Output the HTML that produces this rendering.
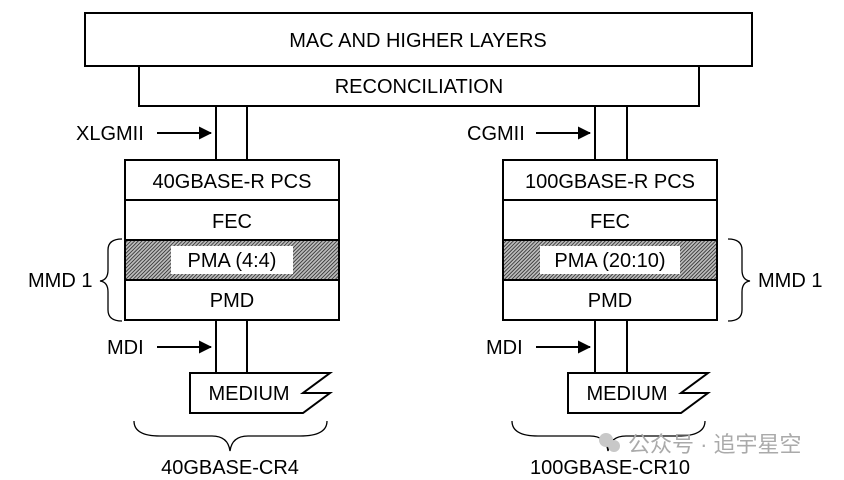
<!DOCTYPE html>
<html><head><meta charset="utf-8"><style>
html,body{margin:0;padding:0;background:#fff;width:844px;height:480px;overflow:hidden}
svg{display:block}
text{font-family:"Liberation Sans",Arial,sans-serif;font-size:20px;fill:#000}
</style></head><body>
<svg width="844" height="480" viewBox="0 0 844 480" xmlns="http://www.w3.org/2000/svg">
<defs>
<pattern id="h" width="2.6" height="2.6" patternUnits="userSpaceOnUse" patternTransform="rotate(45)">
<rect width="2.6" height="2.6" fill="#bbb"/><line x1="0" y1="0" x2="0" y2="2.6" stroke="#222" stroke-width="1.5"/>
</pattern>
<marker id="a" markerWidth="13" markerHeight="13" refX="12" refY="6.5" orient="auto" markerUnits="userSpaceOnUse">
<path d="M0,0 L13,6.5 L0,13 Z" fill="#000"/></marker>
</defs>
<g fill="none" stroke="#000" stroke-width="2">
<rect x="85" y="13" width="667" height="53" fill="#fff"/>
<path d="M139,66 V106 H699 V66"/>
<line x1="216" y1="106" x2="216" y2="160"/><line x1="247" y1="106" x2="247" y2="160"/>
<rect x="125" y="240" width="214" height="40" fill="url(#h)"/>
<rect x="125" y="160" width="214" height="160"/>
<line x1="125" y1="200" x2="339" y2="200"/><line x1="125" y1="240" x2="339" y2="240"/><line x1="125" y1="280" x2="339" y2="280"/>
<line x1="216" y1="320" x2="216" y2="374"/><line x1="247" y1="320" x2="247" y2="374"/>
<path d="M190,373 H330 L303,393 H330 L303,413 H190 Z"/>
<line x1="595" y1="106" x2="595" y2="160"/><line x1="627" y1="106" x2="627" y2="160"/>
<rect x="503" y="240" width="214" height="40" fill="url(#h)"/>
<rect x="503" y="160" width="214" height="160"/>
<line x1="503" y1="200" x2="717" y2="200"/><line x1="503" y1="240" x2="717" y2="240"/><line x1="503" y1="280" x2="717" y2="280"/>
<line x1="595" y1="320" x2="595" y2="374"/><line x1="627" y1="320" x2="627" y2="374"/>
<path d="M568,373 H708 L681,393 H708 L681,413 H568 Z"/>
</g>
<rect x="171" y="246" width="122" height="28" fill="#fff"/>
<rect x="540" y="246" width="140" height="28" fill="#fff"/>
<g fill="none" stroke="#000" stroke-width="2">
<line x1="157" y1="133" x2="211" y2="133" marker-end="url(#a)"/>
<line x1="157" y1="347" x2="211" y2="347" marker-end="url(#a)"/>
<line x1="536" y1="133" x2="590" y2="133" marker-end="url(#a)"/>
<line x1="536" y1="347" x2="590" y2="347" marker-end="url(#a)"/>
</g>
<g fill="none" stroke="#000" stroke-width="1.3">
<path d="M122,239 Q108,239 108,250 V270 Q108,280 100,281 Q108,282 108,292 V310 Q108,321 122,321"/>
<path d="M728,239 Q742,239 742,250 V270 Q742,280 750,281 Q742,282 742,292 V310 Q742,321 728,321"/>
<path d="M134,421 Q134,436 160,436 H212 Q228,436 230,451 Q232,436 248,436 H300 Q327,436 327,421"/>
<path d="M512,421 Q512,436 538,436 H590 Q606,436 608,451 Q610,436 626,436 H678 Q705,436 705,421"/>
</g>
<g text-anchor="middle">
<text x="418" y="47">MAC AND HIGHER LAYERS</text>
<text x="419" y="93">RECONCILIATION</text>
<text x="232" y="188">40GBASE-R PCS</text>
<text x="232" y="228">FEC</text>
<text x="232" y="267">PMA (4:4)</text>
<text x="232" y="307">PMD</text>
<text x="249" y="400">MEDIUM</text>
<text x="230" y="474">40GBASE-CR4</text>
<text x="610" y="188">100GBASE-R PCS</text>
<text x="610" y="228">FEC</text>
<text x="610" y="267">PMA (20:10)</text>
<text x="610" y="307">PMD</text>
<text x="627" y="400">MEDIUM</text>
<text x="610" y="474">100GBASE-CR10</text>
</g>
<text x="76" y="140">XLGMII</text>
<text x="107" y="354">MDI</text>
<text x="28" y="287">MMD 1</text>
<text x="467" y="140">CGMII</text>
<text x="486" y="354">MDI</text>
<text x="758" y="287">MMD 1</text>
<circle cx="606" cy="440" r="7" fill="#c8c8c8"/><circle cx="614" cy="446" r="6" fill="#c8c8c8"/>
<text x="628" y="452" style="font-family:'Liberation Sans','Noto Sans CJK SC',sans-serif;font-size:22px;fill:#aaa">公众号 · 追宇星空</text>
</svg>
</body></html>
